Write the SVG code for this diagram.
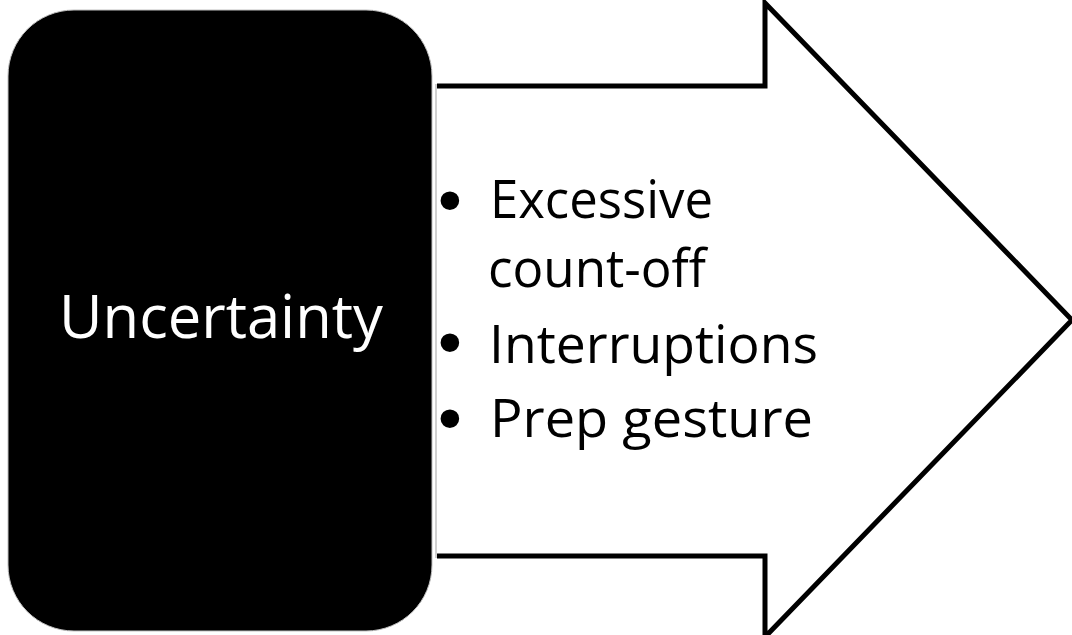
<svg xmlns="http://www.w3.org/2000/svg" width="1072" height="635" viewBox="0 0 1072 635">
<style>
.lbl{font-family:"Open Sans","Liberation Sans",sans-serif;}
.item{font-family:"Open Sans","Liberation Sans",sans-serif;font-size:53px;fill:#000;}
.bul{font-family:"DejaVu Sans",sans-serif;font-size:64px;fill:#000;}
</style>
<rect width="1072" height="635" fill="#fff"/>
<g id="connectors">
<g id="arrow">
<path d="M436,86 L765,86 L765,3 L1072,320 L765,637 L765,556 L436,556 Z" fill="#fff" stroke="none"/>
<path d="M437,86 L765,86 L765,3 L1072,320 L765,637 L765,556 L437,556" fill="none" stroke="#000" stroke-width="5" stroke-linejoin="miter"/>
<line x1="436" y1="84" x2="436" y2="558" stroke="#c0c0c0" stroke-width="1.5"/>
</g>
</g>
<g id="node-uncertainty">
<rect x="8" y="10" width="424" height="621" rx="66" ry="66" fill="#000" stroke="#bfbfbf" stroke-width="1"/>
<text class="lbl" x="221" y="338" font-size="60" fill="#fff" text-anchor="middle" textLength="324" lengthAdjust="spacingAndGlyphs">Uncertainty</text>
</g>
<g id="node-list">
<text class="bul" x="431" y="225">•</text>
<text class="item" x="490" y="218" textLength="223" lengthAdjust="spacingAndGlyphs">Excessive</text>
<text class="item" x="488" y="287" textLength="218" lengthAdjust="spacingAndGlyphs">count-off</text>
<text class="bul" x="431" y="367">•</text>
<text class="item" x="489" y="363" textLength="329" lengthAdjust="spacingAndGlyphs">Interruptions</text>
<text class="bul" x="431" y="443">•</text>
<text class="item" x="490" y="437" textLength="323" lengthAdjust="spacingAndGlyphs">Prep gesture</text>
</g>
</svg>
